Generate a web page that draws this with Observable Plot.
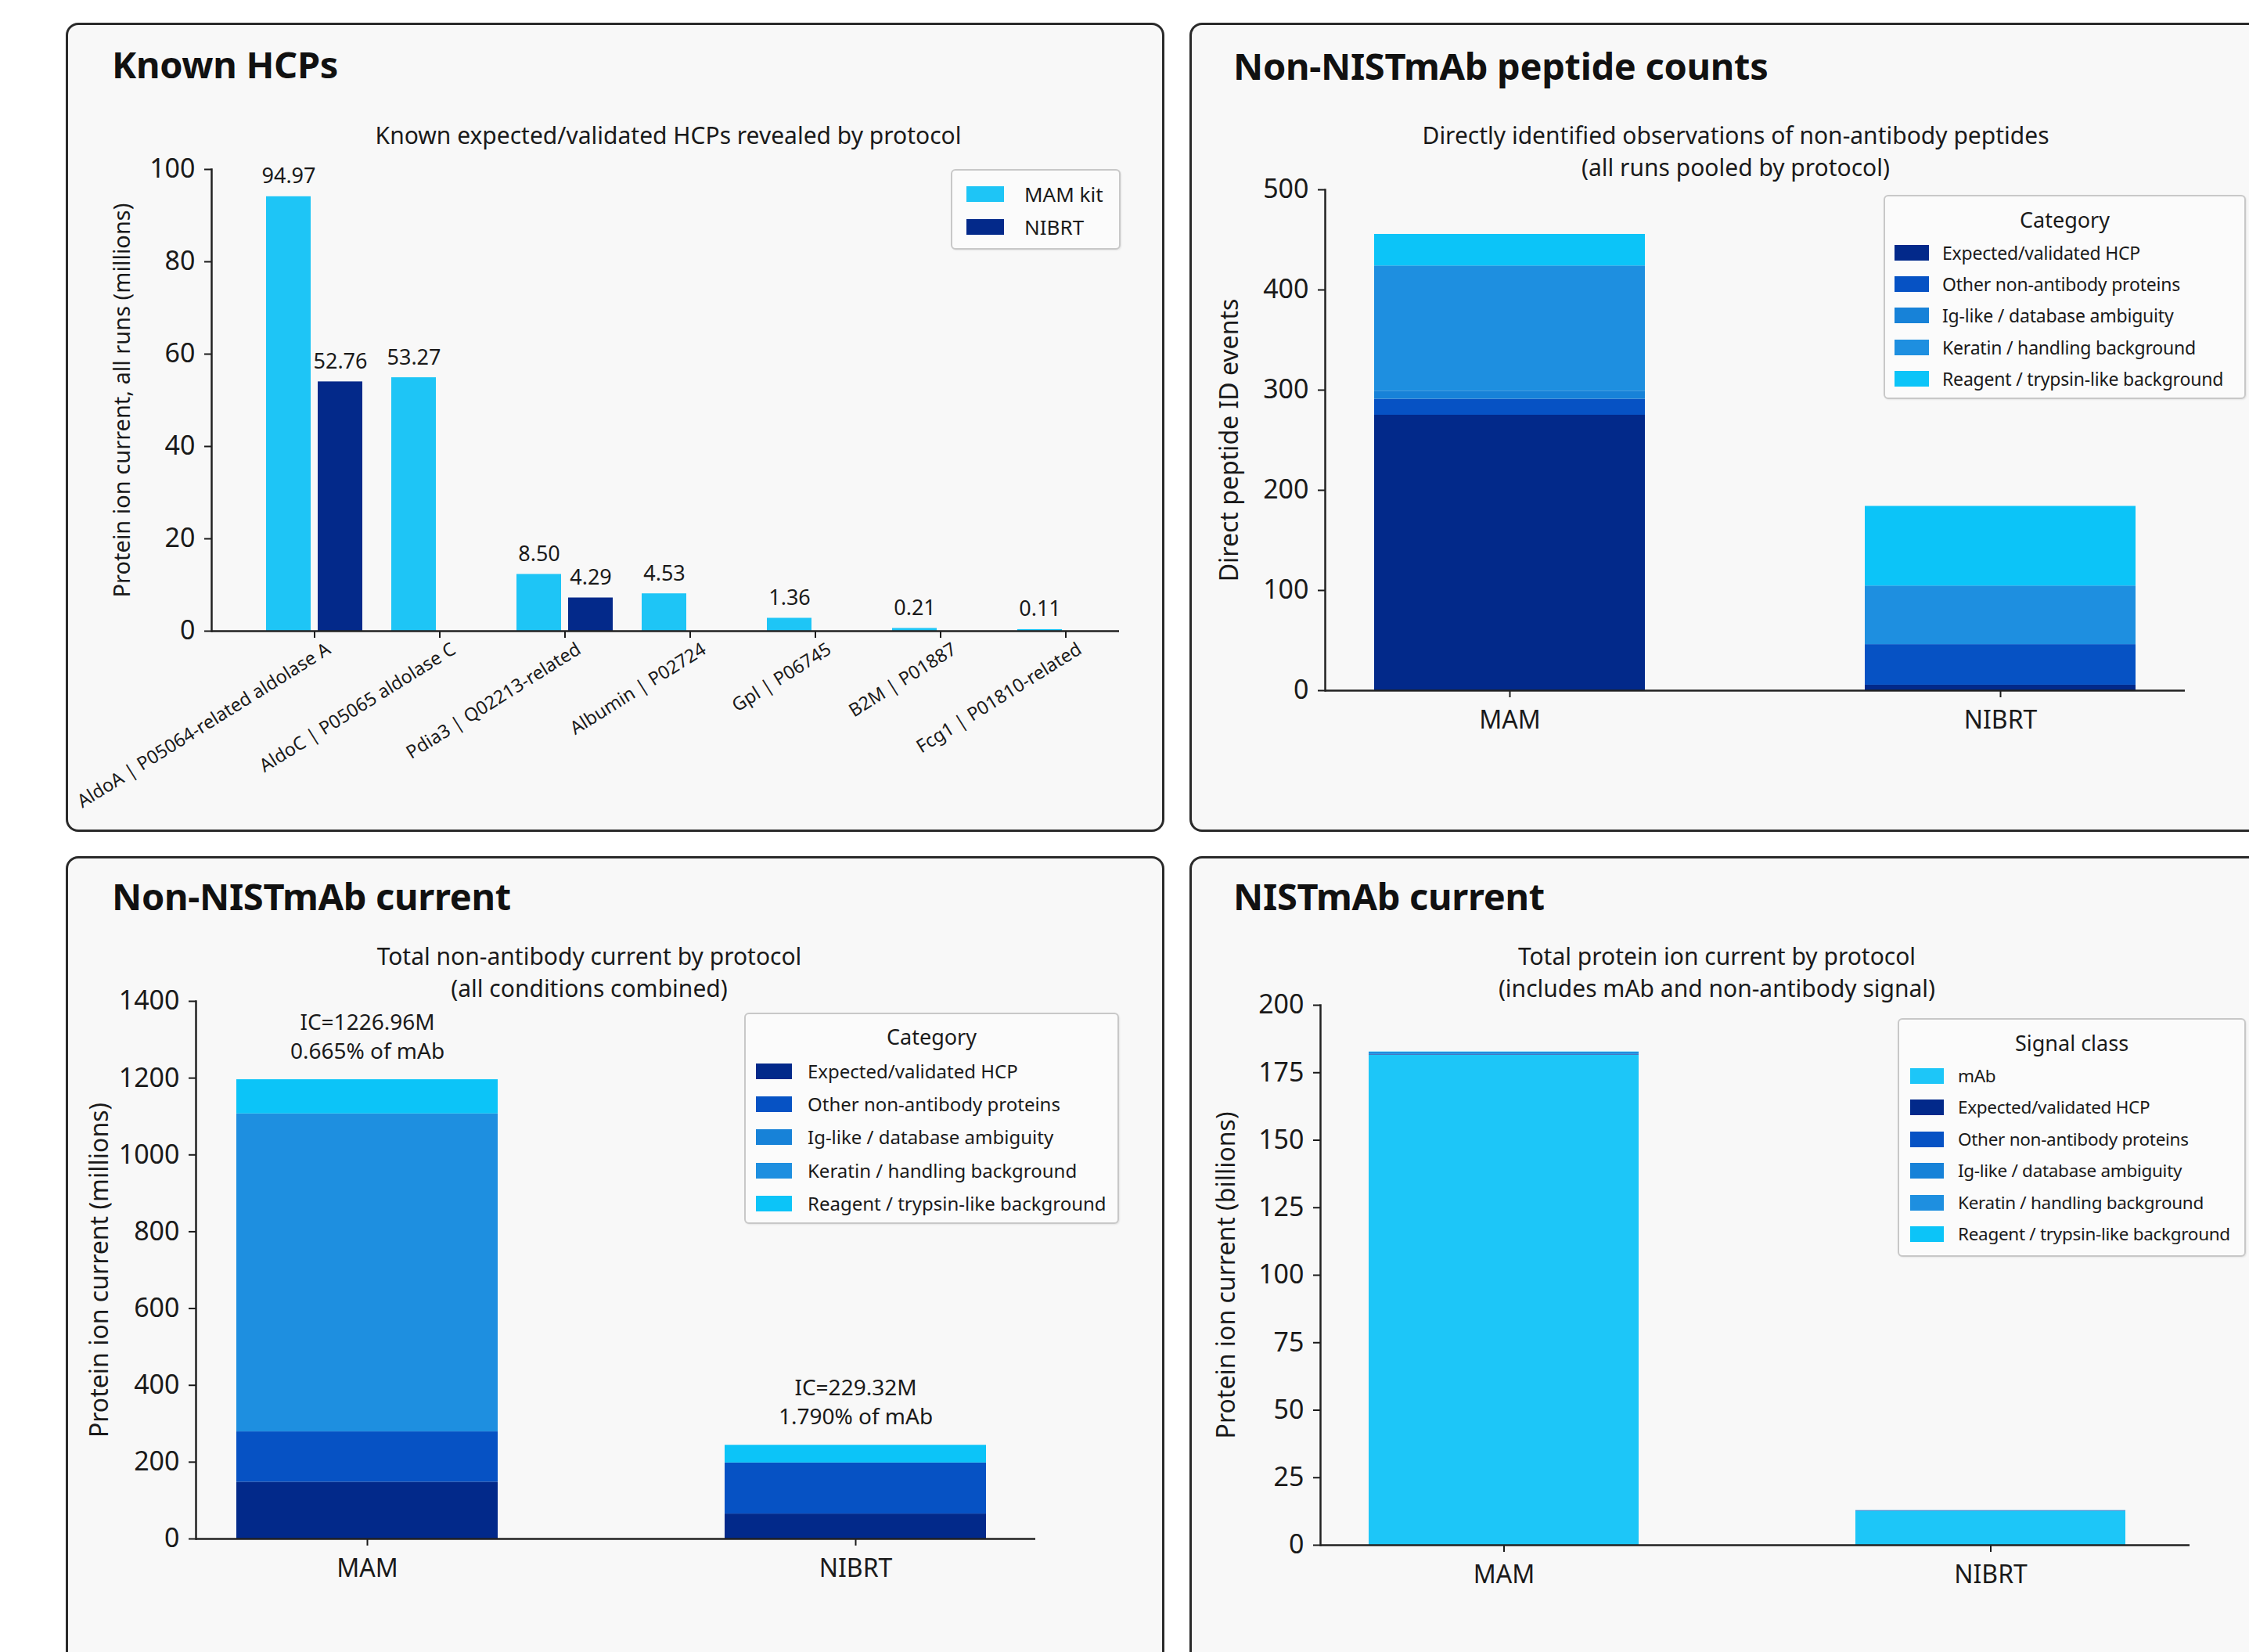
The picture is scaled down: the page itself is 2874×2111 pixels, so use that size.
<!DOCTYPE html>
<html>
<head>
<meta charset="utf-8">
<script src="https://cdn.jsdelivr.net/npm/d3@7"></script>
<script src="https://cdn.jsdelivr.net/npm/@observablehq/plot@0.6"></script>
<style>
html,body{margin:0;padding:0;background:#ffffff;}
body{width:2874px;height:2111px;overflow:hidden;position:relative;font-family:"Noto Sans",sans-serif;color:#1a1a1a;}
.panel{position:absolute;box-sizing:border-box;border:3px solid #2a2a2a;border-radius:16px;background:#f8f8f8;}
.abs{position:absolute;}
.abs svg{max-width:none !important;}
.title{position:absolute;font-weight:700;font-size:47px;line-height:48px;white-space:nowrap;color:#111;letter-spacing:-0.3px;}
.sub{position:absolute;font-size:30px;line-height:41px;text-align:center;white-space:nowrap;transform:translateX(-50%);color:#1a1a1a;}
.legend{position:absolute;box-sizing:border-box;border:2px solid #c8c8c8;border-radius:6px;background:#fbfbfb;box-shadow:1px 1px 2px rgba(0,0,0,0.08);}
.legend .lt{position:absolute;left:0;right:0;text-align:center;white-space:nowrap;}
.legend .sw{position:absolute;}
.legend .lx{position:absolute;white-space:nowrap;}
</style>
</head>
<body>
<script>
// ---------------- data ----------------
const hcpProteins = [
  "AldoA | P05064-related aldolase A",
  "AldoC | P05065 aldolase C",
  "Pdia3 | Q02213-related",
  "Albumin | P02724",
  "Gpl | P06745",
  "B2M | P01887",
  "Fcg1 | P01810-related"
];
const hcpSeries = ["MAM kit", "NIBRT"];
const mamKitCurrent = [94.1, 54.9, 12.3, 8.1, 2.8, 0.6, 0.35];
const mamKitLabels  = ["94.97", "53.27", "8.50", "4.53", "1.36", "0.21", "0.11"];
const nibrtCurrent  = [54.0, null, 7.2, null, null, null, null];
const nibrtLabels   = ["52.76", null, "4.29", null, null, null, null];
const hcpTicks = [0, 20, 40, 60, 80, 100];

const protocols = ["MAM", "NIBRT"];
const categories = [
  "Expected/validated HCP",
  "Other non-antibody proteins",
  "Ig-like / database ambiguity",
  "Keratin / handling background",
  "Reagent / trypsin-like background"
];
const signalClasses = ["mAb"].concat(categories);

const peptideMAM   = [275, 16, 8, 125, 31.5];
const peptideNIBRT = [5.5, 40.5, 0, 58.5, 79.5];
const peptideTicks = [0, 100, 200, 300, 400, 500];

const nonmabMAM   = [148, 131, 0, 828, 89];
const nonmabNIBRT = [65, 133, 0, 0, 46];
const nonmabNotes = ["IC=1226.96M\n0.665% of mAb", "IC=229.32M\n1.790% of mAb"];
const nonmabTicks = [0, 200, 400, 600, 800, 1000, 1200, 1400];

const totalMAM   = [181.5, 0.15, 0.13, 0, 0.83, 0.09];
const totalNIBRT = [12.6, 0.065, 0.133, 0, 0, 0.046];
const totalTicks = [0, 25, 50, 75, 100, 125, 150, 175, 200];

// ---------------- styles ----------------
const seriesColors = ["#1ec5f6", "#03298a"];
const categoryColors = ["#02298a", "#0652c4", "#1782d8", "#1e8fe0", "#0cc4f8"];
const signalColors = ["#1dc6f8"].concat(categoryColors);
const INK = "#1a1a1a";
const FONT = "Noto Sans";
const intFmt = d3.format("d");

// ---------------- helpers ----------------
function el(tag, cls, css, text) {
  const e = document.createElement(tag);
  if (cls) e.className = cls;
  Object.assign(e.style, css || {});
  if (text != null) e.textContent = text;
  document.body.appendChild(e);
  return e;
}
function panel(x, y, w, h) { el("div", "panel", {left: x + "px", top: y + "px", width: w + "px", height: h + "px"}); }
function title(x, yc, t) { el("div", "title", {left: x + "px", top: (yc - 26) + "px"}, t); }
function sub(xc, yc, lines) {
  const d = el("div", "sub", {left: xc + "px", top: (yc - 20.5) + "px"});
  d.innerHTML = lines.map(s => s.replace(/&/g, "&amp;").replace(/</g, "&lt;")).join("<br>");
}
function legend(o) {
  const box = el("div", "legend", {left: o.x + "px", top: o.y + "px", width: o.w + "px", height: o.h + "px"});
  if (o.title) {
    const t = document.createElement("div");
    t.className = "lt"; t.textContent = o.title;
    Object.assign(t.style, {top: (o.titleY - 19) + "px", fontSize: o.titleSize + "px", lineHeight: "38px"});
    box.appendChild(t);
  }
  o.items.forEach((name, i) => {
    const cy = o.row0 + i * o.step;
    const s = document.createElement("div");
    s.className = "sw";
    Object.assign(s.style, {left: o.swX + "px", top: (cy - o.swH / 2) + "px", width: o.swW + "px", height: o.swH + "px", background: o.colors[i]});
    box.appendChild(s);
    const tx = document.createElement("div");
    tx.className = "lx"; tx.textContent = name;
    Object.assign(tx.style, {left: o.txX + "px", top: (cy - 17) + "px", fontSize: o.fontSize + "px", lineHeight: "34px", letterSpacing: (o.ls || 0) + "px"});
    box.appendChild(tx);
  });
}
function mount(svg, x, y, w, h) {
  const d = el("div", "abs", {left: x + "px", top: y + "px", width: w + "px", height: h + "px"});
  svg.style.maxWidth = "none";
  svg.style.width = w + "px";
  svg.style.height = h + "px";
  d.appendChild(svg);
}
function yTitle(text, dx, size) {
  return Plot.text([text], {frameAnchor: "left", textAnchor: "middle", text: d => d, rotate: -90, dx: dx, fontSize: size, fill: INK});
}

// ---------------- panels ----------------
panel(84, 29, 1404, 1034);
panel(1520, 29, 1400, 1034);
panel(84, 1094, 1404, 1100);
panel(1520, 1094, 1400, 1100);

// ---- Panel 1: Known HCPs ----
{
  const mamRows = hcpProteins.map((p, i) => ({protein: p, value: mamKitCurrent[i], label: mamKitLabels[i]}));
  const nibRows = hcpProteins.map((p, i) => ({protein: p, value: nibrtCurrent[i], label: nibrtLabels[i]})).filter(d => d.value != null);
  const svg = Plot.plot({
    width: 1404, height: 1034,
    marginLeft: 186, marginRight: 58, marginTop: 187, marginBottom: 257,
    style: {background: "transparent", fontFamily: FONT, color: INK, overflow: "visible"},
    x: {domain: hcpProteins, paddingInner: 0.229, paddingOuter: 0.2215, align: 0.913, label: null},
    y: {domain: [0, 100], label: null},
    marks: [
      Plot.barY(mamRows, {x: "protein", y: "value", fill: seriesColors[0], insetRight: 66}),
      Plot.barY(nibRows, {x: "protein", y: "value", fill: seriesColors[1], insetLeft: 66}),
      Plot.text(mamRows, {x: "protein", y: "value", text: "label", dx: -33, dy: -17, lineAnchor: "bottom", fontSize: 27, fill: INK}),
      Plot.text(nibRows, {x: "protein", y: "value", text: "label", dx: 33, dy: -17, lineAnchor: "bottom", fontSize: 27, fill: INK}),
      Plot.axisY({ticks: hcpTicks, tickFormat: intFmt, tickSize: 9, tickPadding: 12, strokeWidth: 2, fontSize: 34, label: null}),
      Plot.axisX({tickSize: 9, tickFormat: () => "", strokeWidth: 2, label: null}),
      Plot.axisX({tickSize: 0, tickPadding: 13, tickRotate: -32, fontSize: 23.5, dx: 18, dy: 8, label: null}),
      Plot.ruleY([0], {stroke: "#222", strokeWidth: 2.5}),
      Plot.frame({anchor: "left", stroke: "#222", strokeWidth: 2.5}),
      yTitle("Protein ion current, all runs (millions)", -114, 29)
    ]
  });
  mount(svg, 84, 29, 1404, 1034);
  title(143, 84, "Known HCPs");
  sub(854, 172, ["Known expected/validated HCPs revealed by protocol"]);
  legend({x: 1215, y: 216, w: 217, h: 103, items: hcpSeries, colors: seriesColors,
          row0: 30, step: 42, swX: 18, swW: 48, swH: 20, txX: 92, fontSize: 26});
}

function stacked(o) {
  const rows = protocols.flatMap((p, i) => o.classes.map((c, j) => ({protocol: p, cls: c, value: o.values[i][j]})));
  const marks = [
    Plot.barY(rows, {x: "protocol", y: "value", fill: "cls"}),
    Plot.axisY({ticks: o.ticks, tickFormat: intFmt, tickSize: 9, tickPadding: 12, strokeWidth: 2, fontSize: 34, label: null}),
    Plot.axisX({tickSize: 9, tickPadding: 17, strokeWidth: 2, fontSize: 32, label: null}),
    Plot.ruleY([0], {stroke: "#222", strokeWidth: 2.5}),
    Plot.frame({anchor: "left", stroke: "#222", strokeWidth: 2.5}),
    yTitle(o.ylabel, o.labelDx, 32)
  ];
  if (o.notes) {
    const notes = protocols.map((p, i) => ({protocol: p, total: d3.sum(o.values[i]), note: o.notes[i]}));
    marks.push(Plot.text(notes, {x: "protocol", y: "total", text: "note", lineAnchor: "bottom", dy: -27, lineHeight: 1.32, fontSize: 28, fill: INK}));
  }
  return Plot.plot({
    width: o.w, height: o.h,
    marginLeft: o.ml, marginRight: o.mr, marginTop: o.mt, marginBottom: o.mb,
    style: {background: "transparent", fontFamily: FONT, color: INK, overflow: "visible"},
    x: {domain: protocols, paddingInner: o.pi, paddingOuter: o.po, align: o.align, label: null},
    y: {domain: o.yDomain, label: null},
    color: {domain: o.classes, range: o.colors},
    marks
  });
}

// ---- Panel 2: Non-NISTmAb peptide counts ----
mount(stacked({
  w: 1400, h: 1034, ml: 173, mr: 128, mt: 213, mb: 181,
  pi: 0.448, po: 0.1, align: 0.5, yDomain: [0, 500], ticks: peptideTicks,
  classes: categories, colors: categoryColors, values: [peptideMAM, peptideNIBRT],
  ylabel: "Direct peptide ID events", labelDx: -122
}), 1520, 29, 1400, 1034);
title(1576, 86, "Non-NISTmAb peptide counts");
sub(2218, 172, ["Directly identified observations of non-antibody peptides", "(all runs pooled by protocol)"]);
legend({x: 2407, y: 249, w: 463, h: 261, title: "Category", titleY: 30, titleSize: 27, items: categories, colors: categoryColors,
        row0: 72, step: 40.2, swX: 12, swW: 44, swH: 20, txX: 73, fontSize: 23, ls: -0.2});

// ---- Panel 3: Non-NISTmAb current ----
mount(stacked({
  w: 1404, h: 1100, ml: 166, mr: 165, mt: 185, mb: 228,
  pi: 0.464, po: 0.091, align: 0.45, yDomain: [0, 1400], ticks: nonmabTicks,
  classes: categories, colors: categoryColors, values: [nonmabMAM, nonmabNIBRT],
  ylabel: "Protein ion current (millions)", labelDx: -123, notes: nonmabNotes
}), 84, 1094, 1404, 1100);
title(143, 1147, "Non-NISTmAb current");
sub(753, 1221, ["Total non-antibody current by protocol", "(all conditions combined)"]);
legend({x: 951, y: 1294, w: 479, h: 270, title: "Category", titleY: 29, titleSize: 27, items: categories, colors: categoryColors,
        row0: 73, step: 42.2, swX: 13, swW: 46, swH: 20, txX: 79, fontSize: 24});

// ---- Panel 4: NISTmAb current ----
mount(stacked({
  w: 1400, h: 1100, ml: 167, mr: 122, mt: 190, mb: 220,
  pi: 0.445, po: 0.1155, align: 0.43, yDomain: [0, 200], ticks: totalTicks,
  classes: signalClasses, colors: signalColors, values: [totalMAM, totalNIBRT],
  ylabel: "Protein ion current (billions)", labelDx: -120
}), 1520, 1094, 1400, 1100);
title(1576, 1147, "NISTmAb current");
sub(2194, 1221, ["Total protein ion current by protocol", "(includes mAb and non-antibody signal)"]);
legend({x: 2425, y: 1301, w: 445, h: 305, title: "Signal class", titleY: 30, titleSize: 27, items: signalClasses, colors: signalColors,
        row0: 72, step: 40.4, swX: 14, swW: 43, swH: 20, txX: 75, fontSize: 22.5, ls: -0.3});
</script>
</body>
</html>
